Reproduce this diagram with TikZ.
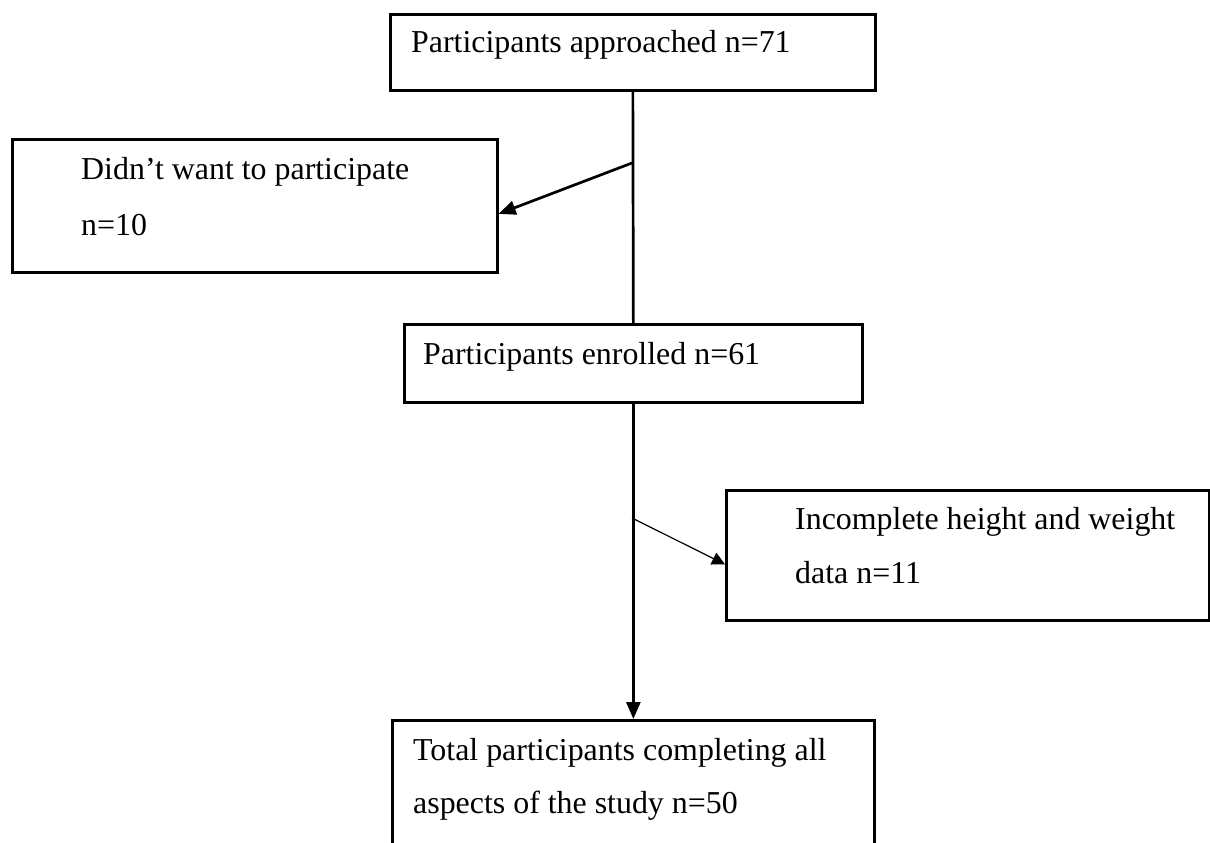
\documentclass[tikz,border=0pt]{standalone}
\usepackage{fontspec}
\setmainfont{Liberation Serif}
\usetikzlibrary{arrows.meta}
\begin{document}
\begin{tikzpicture}[x=1pt,y=-1pt,
  box/.style={draw=black,line width=2.7pt,rectangle,inner sep=0pt,anchor=north west},
  txt/.style={inner sep=0pt,anchor=base west,align=left,font=\fontsize{31.9}{56}\selectfont},
  flow/.style={line width=2.7pt},
  thick arrow/.style={line width=2.7pt,-{Triangle[length=17pt,width=14pt]}},
  thin arrow/.style={line width=1.2pt,-{Triangle[length=13pt,width=13pt]}}]
\useasboundingbox (0,0) rectangle (1210,843);
\clip (0,0) rectangle (1210,843);
% boxes
\node[box,minimum width=485pt,minimum height=76pt] (b1) at (389,13) {};
\node[box,minimum width=485pt,minimum height=133pt] (b2) at (11,138) {};
\node[box,minimum width=458pt,minimum height=78pt] (b3) at (403,323) {};
\node[box,minimum width=483pt,minimum height=130pt] (b4) at (725,489) {};
\node[box,minimum width=482pt,minimum height=160pt] (b5) at (391,719) {};
% texts
\node[txt] (t1) at (411,53) {Participants approached n=71};
\node[txt] (t2a) at (81,179) {Didn’t want to participate};
\node[txt] (t2b) at (81,235) {n=10};
\node[txt] (t3) at (423,364) {Participants enrolled n=61};
\node[txt] (t4a) at (795,529) {Incomplete height and weight};
\node[txt] (t4b) at (795,583) {data n=11};
\node[txt] (t5a) at (413,760) {Total participants completing all};
\node[txt] (t5b) at (413,813) {aspects of the study n=50};
% connectors
\coordinate (j1) at (632,163);
\coordinate (j2) at (632,518);
\draw[flow] (b1.south) -- (b3.north);
\draw[thick arrow] (j1) -- ([yshift=-8pt]b2.east);
\draw[thick arrow] (b3.south) -- (b5.north);
\draw[thin arrow] (j2) -- ([yshift=-9pt]b4.west);
\end{tikzpicture}
\end{document}
